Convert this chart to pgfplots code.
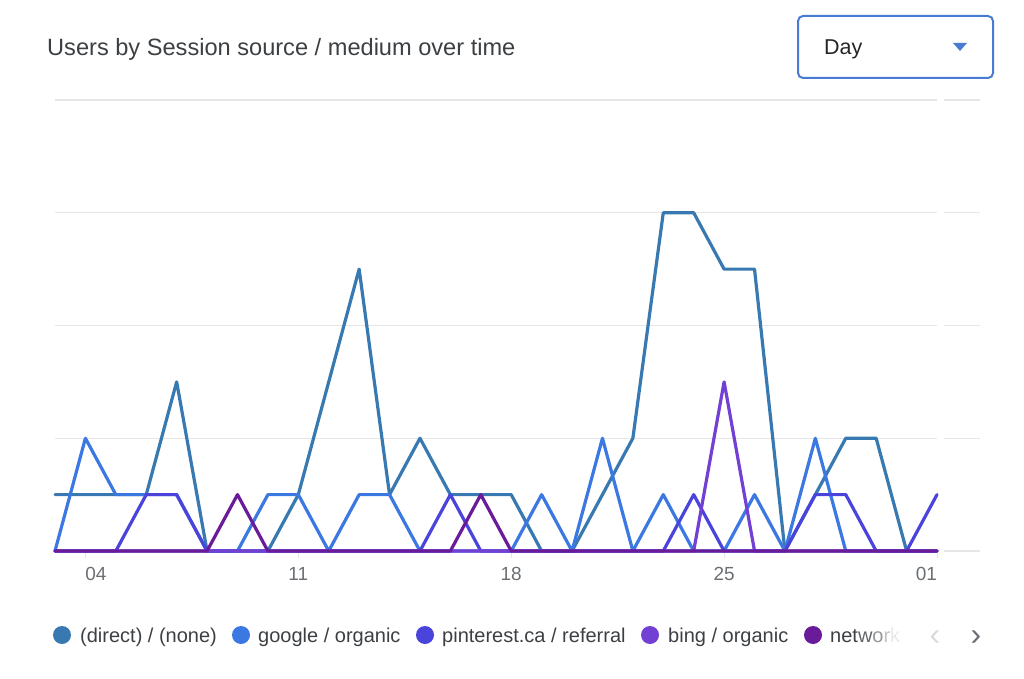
\documentclass[border=0pt]{standalone}
\usepackage{pgfplots}
\usepackage{pgfplotstable}
\pgfplotsset{compat=1.18}
\usepackage{fontspec}
\setmainfont{Liberation Sans}
\definecolor{cdirect}{HTML}{3979B1}
\definecolor{cgoogle}{HTML}{3B78E2}
\definecolor{cpin}{HTML}{4A44DC}
\definecolor{cbing}{HTML}{7340D4}
\definecolor{cnet}{HTML}{6A1B9A}
\definecolor{cgrid}{HTML}{E6E6E6}
\definecolor{ctext}{HTML}{3C4043}
\definecolor{ctick}{HTML}{6B6F73}
\definecolor{cbox}{HTML}{4A7BD3}

\pgfplotstableread{
x direct google pinterest bing network
0 1 0 0 0 0
1 1 2 0 0 0
2 1 1 0 0 0
3 1 1 1 0 0
4 3 1 1 0 0
5 0 0 0 0 0
6 0 0 0 0 1
7 0 1 0 0 0
8 1 1 0 0 0
9 3 0 0 0 0
10 5 1 0 0 0
11 1 1 0 0 0
12 2 0 0 0 0
13 1 0 1 0 0
14 1 0 0 0 1
15 1 0 0 0 0
16 0 1 0 0 0
17 0 0 0 0 0
18 1 2 0 0 0
19 2 0 0 0 0
20 6 1 0 0 0
21 6 0 1 0 0
22 5 0 0 3 0
23 5 1 0 0 0
24 0 0 0 0 0
25 1 2 1 0 0
26 2 0 1 0 0
27 2 0 0 0 0
28 0 0 0 0 0
29 0 0 1 0 0
}\data

\begin{document}
\begin{tikzpicture}[x=1pt,y=1pt]
\path[use as bounding box] (0,0) rectangle (1024,678);

\begin{axis}[
  at={(55pt,127pt)}, anchor=south west, scale only axis,
  width=882pt, height=451pt,
  xmin=0, xmax=29, ymin=0, ymax=8,
  axis line style={draw=none},
  ytick={0,2,4,6,8}, yticklabels={},
  ymajorgrids, grid style={draw=cgrid, line width=1.3pt},
  ytick style={draw=none},
  xtick={1,8,15,22,29}, xtick pos=bottom,
  xticklabels={\makebox[0pt][l]{04},11,18,25,\makebox[0pt][r]{01}},
  xtick style={draw=cgrid, line width=1pt},
  major tick length=7pt, tick align=outside,
  xticklabel style={font=\fontsize{19}{22}\selectfont, text=ctick, anchor=base, yshift=-22pt},
  /pgf/number format/assume math mode=true,
  clip=false,
  every axis plot/.append style={line width=3.2pt, line join=round, line cap=round},
]
\addplot[cdirect] table[x=x, y=direct] {\data};
\addplot[cgoogle] table[x=x, y=google] {\data};
\addplot[cpin] table[x=x, y=pinterest] {\data};
\addplot[cbing] table[x=x, y=bing] {\data};
\addplot[cnet] table[x=x, y=network] {\data};
\end{axis}

\begin{axis}[
  at={(944pt,127pt)}, anchor=south west, scale only axis,
  width=36pt, height=451pt,
  xmin=0, xmax=1, ymin=0, ymax=8,
  axis line style={draw=none},
  ytick={0,2,4,6,8}, yticklabels={}, xtick=\empty,
  ymajorgrids, grid style={draw=cgrid, line width=1.3pt},
  ytick style={draw=none},
]
\end{axis}

% title
\node[anchor=base west, inner sep=0, text=ctext, font=\fontsize{23.6}{26}\selectfont] at (47,622) {Users by Session source / medium over time};

% dropdown
\draw[cbox, line width=2pt, rounded corners=5pt] (798,662) rectangle (993,600);
\node[anchor=base west, inner sep=0, text=black!85, font=\fontsize{21.5}{24}\selectfont] at (824,623) {Day};
\fill[cbox] (953,635) -- (967,635) -- (960,627) -- cycle;

% legend
\fill[cdirect] (62,43) circle (9);
\node[anchor=base west, inner sep=0, text=ctext, font=\fontsize{20}{24}\selectfont] at (80,36) {(direct) / (none)};
\fill[cgoogle] (241,43) circle (9);
\node[anchor=base west, inner sep=0, text=ctext, font=\fontsize{20}{24}\selectfont] at (258,36) {google / organic};
\fill[cpin] (425,43) circle (9);
\node[anchor=base west, inner sep=0, text=ctext, font=\fontsize{20}{24}\selectfont] at (442,36) {pinterest.ca / referral};
\fill[cbing] (650,43) circle (9);
\node[anchor=base west, inner sep=0, text=ctext, font=\fontsize{20}{24}\selectfont] at (668,36) {bing / organic};
\fill[cnet] (813,43) circle (9);
\node[anchor=base west, inner sep=0, font=\fontsize{20}{24}\selectfont] at (830,36) {\textcolor{ctext}{net}\textcolor{ctext!80}{w}\textcolor{ctext!55}{o}\textcolor{ctext!32}{r}\textcolor{ctext!12}{k}};
\node[anchor=base, inner sep=0, text=black!15, font=\fontsize{32}{34}\selectfont] at (935,33) {‹};
\node[anchor=base, inner sep=0, text=ctick, font=\fontsize{32}{34}\selectfont] at (976,33) {›};
\end{tikzpicture}
\end{document}
